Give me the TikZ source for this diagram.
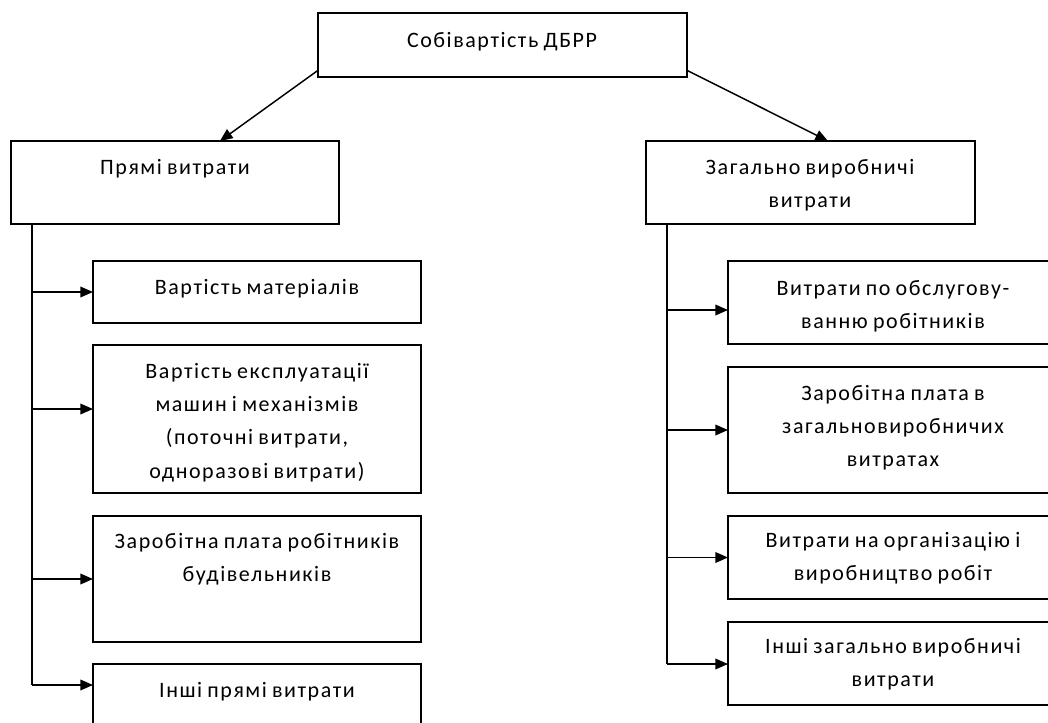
\documentclass[tikz,border=0pt]{standalone}
\usepackage{fontspec}
\setmainfont[LetterSpace=7,WordSpace=0.8]{Carlito}
\usetikzlibrary{arrows.meta,calc}
\newcommand\bx[5]{\node[box,minimum width={(#4-#2)*0.75pt},minimum height={(#5-#3)*0.75pt}] (#1) at (#2,#3) {};}
\newcommand\tx[4]{\node[lbl] (#1) at (#2,#3) {\begin{tabular}[t]{@{}c@{}}#4\end{tabular}};}
\begin{document}
\begin{tikzpicture}[x=0.75pt,y=-0.75pt,
  box/.style={draw=black,line width=1.1pt,inner sep=0pt,outer sep=0pt,anchor=north west,fill=white},
  lbl/.style={anchor=base,inner sep=0pt,font=\fontsize{16.5}{25.1}\selectfont},
  arr/.style={line width=1.1pt,-{Triangle[length=9.5pt,width=8pt]}},
  ln/.style={line width=1.1pt}]
\useasboundingbox (0,0) rectangle (1048,722);
\clip (0,0) rectangle (1048,722);
\renewcommand\arraystretch{1}
% boxes
\bx{T}{318}{13}{687}{77}
\bx{P}{11}{141}{339}{224}
\bx{Z}{646}{141}{975}{224}
\bx{L1}{93}{261}{421}{323}
\bx{L2}{93}{345}{421}{493}
\bx{L3}{93}{516}{421}{642}
\bx{L4}{93}{664}{421}{740}
\bx{R1}{728}{261}{1058}{344}
\bx{R2}{728}{367}{1058}{493}
\bx{R3}{728}{516}{1058}{599}
\bx{R4}{728}{622}{1058}{705}
% texts
\tx{tT}{502}{47}{Собівартість ДБРР}
\tx{tP}{175}{174}{Прямі витрати}
\tx{tZ}{810}{174}{Загально виробничі\\витрати}
\tx{tL1}{257}{294}{Вартість матеріалів}
\tx{tL2}{257}{378}{Вартість експлуатації\\машин і механізмів\\(поточні витрати,\\одноразові витрати)}
\tx{tL3}{257}{548}{Заробітна плата робітників\\будівельників}
\tx{tL4}{257}{697}{Інші прямі витрати}
\tx{tR1}{893}{295}{Витрати по обслугову-\\ванню робітників}
\tx{tR2}{893}{400}{Заробітна плата в\\загальновиробничих\\витратах}
\tx{tR3}{893}{547}{Витрати на організацію і\\виробництво робіт}
\tx{tR4}{893}{653}{Інші загально виробничі\\витрати}
% top arrows
\draw[arr] ([yshift=5pt]T.south west) -- ($(P.north west)!0.637!(P.north east)$);
\draw[arr] ([yshift=5pt]T.south east) -- ($(Z.north west)!0.553!(Z.north east)$);
% left spine
\coordinate (sL) at (32,224);
\coordinate (eL) at (32,685);
\draw[ln] (sL) -- (eL);
\coordinate (yL2) at (0,409);
\draw[arr] (sL |- L1.west) -- (L1.west);
\draw[arr] (sL |- yL2) -- (L2.west |- yL2);
\draw[arr] (sL |- L3.west) -- (L3.west);
\draw[arr] (eL) -- (L4.west |- eL);
% right spine
\coordinate (sR) at (667,224);
\coordinate (eR) at (667,664);
\draw[ln] (sR) -- (eR);
\coordinate (yR1) at (0,310);
\draw[arr] (sR |- yR1) -- (R1.west |- yR1);
\draw[arr] (sR |- R2.west) -- (R2.west);
\draw[arr] (sR |- R3.west) -- (R3.west);
\draw[arr] (eR) -- (R4.west |- eR);
\end{tikzpicture}
\end{document}
